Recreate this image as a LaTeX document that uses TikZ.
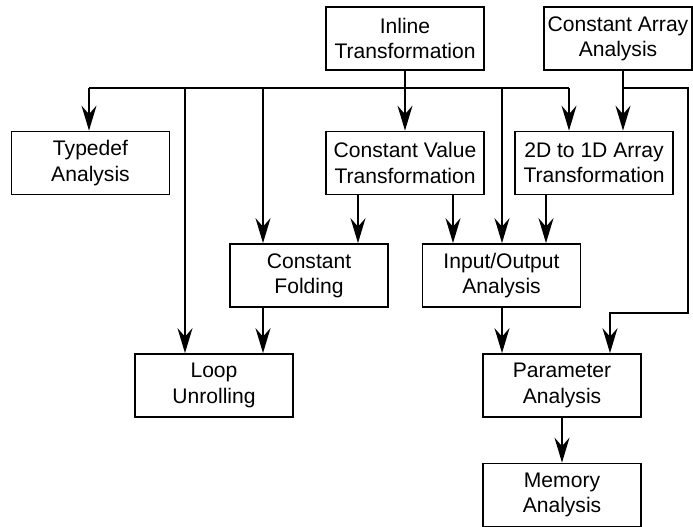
\documentclass[tikz,border=0pt]{standalone}
\usepackage{fontspec}
\setmainfont{Liberation Sans}
\usetikzlibrary{arrows.meta}

\tikzset{
  pass/.style={draw, line width=1pt, inner sep=0pt, align=center,
    minimum width=3.16cm, minimum height=1.26cm,
    font=\fontsize{12pt}{14.4pt}\selectfont},
  arr/.style={line width=1pt, -{Stealth[length=5mm, width=3mm, inset=1.7mm]}},
  link/.style={line width=1pt}
}

\begin{document}
\begin{tikzpicture}[x=0.02cm, y=-0.02cm]
      \useasboundingbox (0,0) rectangle (693,527);
      % passes
      \node[pass] (inl) at (405,38.5) {Inline \\ Transformation};
      \node[pass, minimum width=2.96cm] (carr) at (618,38.5) {Constant Array \\ Analysis};
      \node[pass] (tdf) at (90.5,163) {Typedef \\ Analysis};
      \node[pass] (cvt) at (405,163) {Constant Value \\ Transformation};
      \node[pass] (two) at (594,163) {2D to 1D Array \\ Transformation};
      \node[pass] (cfd) at (309,275.5) {Constant \\ Folding};
      \node[pass] (ioa) at (501.5,275.5) {Input/Output \\ Analysis};
      \node[pass] (lpu) at (214,385.5) {Loop \\ Unrolling};
      \node[pass] (par) at (562,385.5) {Parameter \\ Analysis};
      \node[pass] (mem) at (562,495) {Memory \\ Analysis};
      % columns and rows of the connectors
      \coordinate (xf) at (89,0);
      \coordinate (xe) at (185,0);
      \coordinate (xd) at (263,0);
      \coordinate (xa) at (358,0);
      \coordinate (xb) at (453,0);
      \coordinate (xg) at (502,0);
      \coordinate (xc) at (546,0);
      \coordinate (xh) at (569,0);
      \coordinate (xk) at (610,0);
      \coordinate (xi) at (623,0);
      \coordinate (xj) at (688,0);
      \coordinate (bus) at (0,88);
      \coordinate (ret) at (0,313);
      % from the inliner
      \draw[link] (xf |- bus) -- (xh |- bus);
      \draw[arr] (xf |- bus) -- (xf |- tdf.north);
      \draw[arr] (xe |- bus) -- (xe |- lpu.north);
      \draw[arr] (xd |- bus) -- (xd |- cfd.north);
      \draw[arr] (inl) -- (cvt);
      \draw[arr] (xg |- bus) -- (xg |- ioa.north);
      \draw[arr] (xh |- bus) -- (xh |- two.north);
      % from the constant array pass
      \draw[arr] (xi |- carr.south) -- (xi |- two.north);
      \draw[arr] (xi |- bus) -- (xj |- bus) -- (xj |- ret) -- (xk |- ret) -- (xk |- par.north);
      % the rest
      \draw[arr] (xa |- cvt.south) -- (xa |- cfd.north);
      \draw[arr] (xb |- cvt.south) -- (xb |- ioa.north);
      \draw[arr] (xc |- two.south) -- (xc |- ioa.north);
      \draw[arr] (xd |- cfd.south) -- (xd |- lpu.north);
      \draw[arr] (xg |- ioa.south) -- (xg |- par.north);
      \draw[arr] (par) -- (mem);
    \end{tikzpicture}
\end{document}
